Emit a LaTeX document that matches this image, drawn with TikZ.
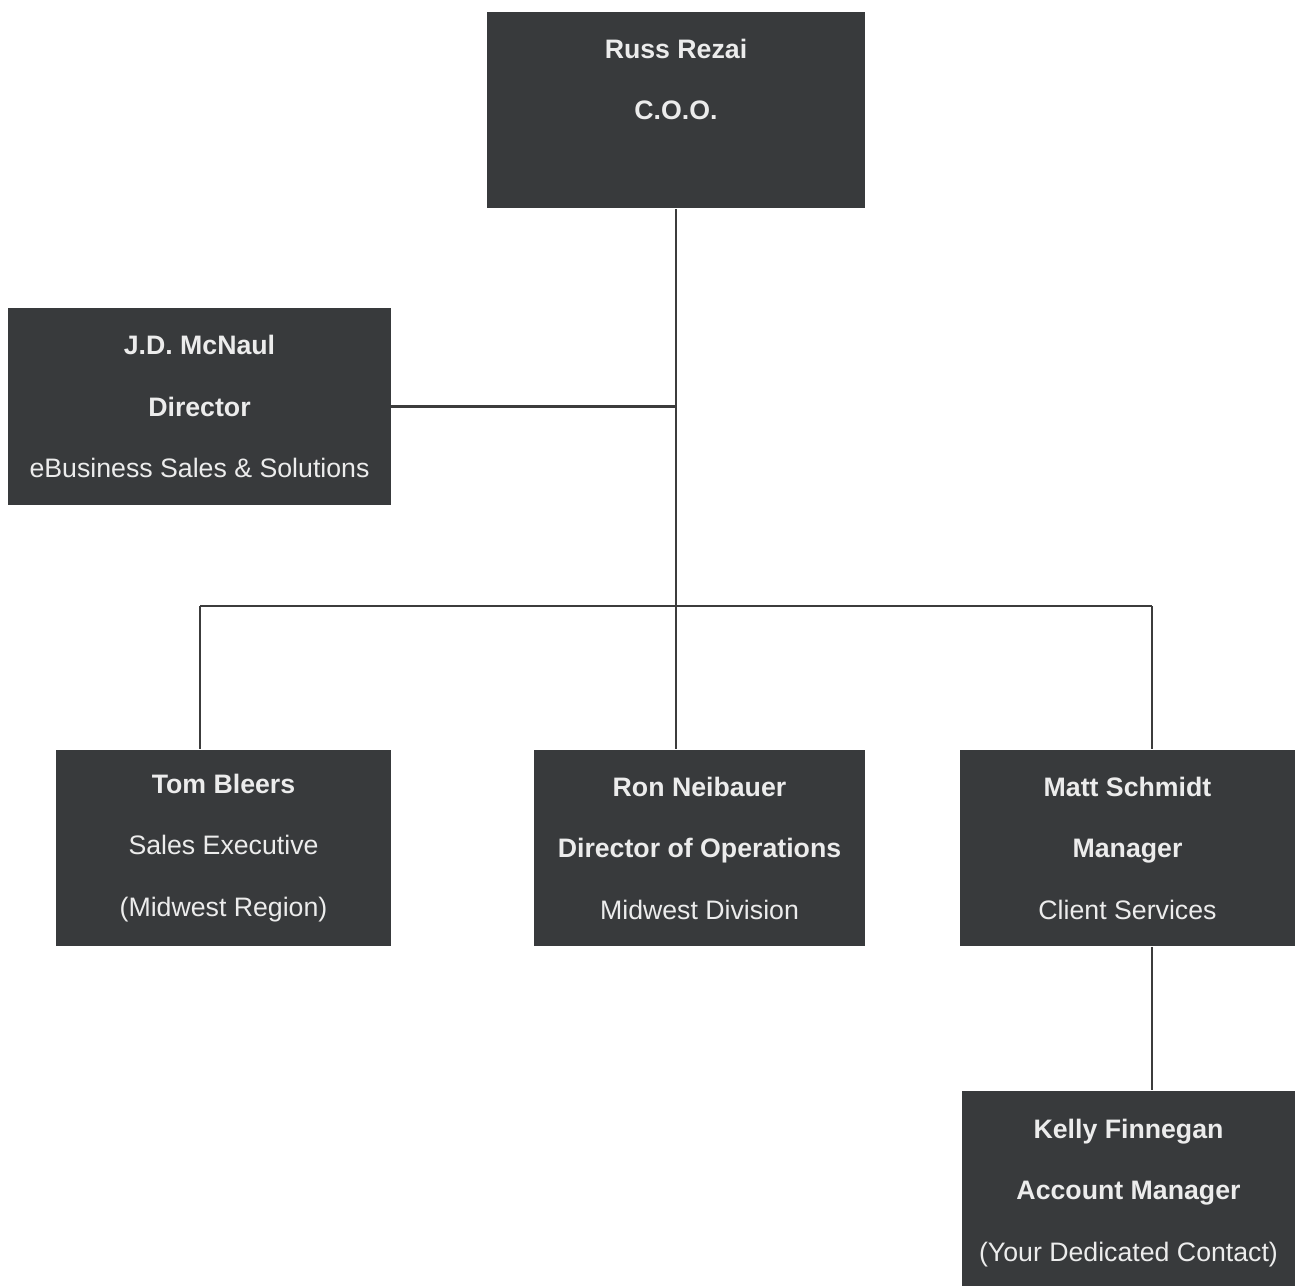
\documentclass[tikz,border=0pt]{standalone}
\usepackage{fontspec}
\setmainfont{Liberation Sans}
\usepackage{tikz}
\usetikzlibrary{calc}
\definecolor{boxgray}{RGB}{56,58,60}
\definecolor{boxtext}{RGB}{236,236,236}
\definecolor{linegray}{RGB}{60,60,60}
\tikzset{
  person/.style={fill=boxgray, text=boxtext, inner sep=0pt, align=center,
    font=\fontsize{15.2}{35}\selectfont, minimum height=3.94cm},
  link/.style={draw=linegray, line width=1.4pt}
}

\begin{document}
\begin{tikzpicture}[x=0.02cm,y=-0.02cm]
    \useasboundingbox (0,0) rectangle (1304,1285);
    % people
    \node[person, minimum width=7.56cm] (coo) at (676,110) {\textbf{Russ Rezai}\\\textbf{C.O.O.}\\ };
    \node[person, minimum width=7.66cm] (mcnaul) at (199.5,406.5) {\textbf{J.D. McNaul}\\\textbf{Director}\\eBusiness Sales \& Solutions};
    \node[person, minimum width=6.70cm] (tom) at (223.5,848) {\textbf{Tom Bleers}\\Sales Executive\\(Midwest Region)};
    \node[person, minimum width=6.62cm] (ron) at (699.5,848) {\textbf{Ron Neibauer}\\\textbf{Director of Operations}\\Midwest Division};
    \node[person, minimum width=6.70cm] (matt) at (1127.5,848) {\textbf{Matt Schmidt}\\\textbf{Manager}\\Client Services};
    \node[person, minimum width=6.66cm, minimum height=4.1cm] (kelly) at (1128.5,1193) {\textbf{Kelly Finnegan}\\\textbf{Account Manager}\\(Your Dedicated Contact)};
    % lines
    \coordinate (busL) at (200,606);
    \coordinate (busR) at (1152,606);
    \draw[link] (coo.south) -- (coo.south |- ron.north);
    \draw[link] (mcnaul.east) -- (mcnaul.east -| coo.south);
    \draw[link] (busL) -- (busR);
    \draw[link] (busL) -- (busL |- tom.north);
    \draw[link] (busR) -- (busR |- matt.north);
    \draw[link] (busR |- matt.south) -- (busR |- kelly.north);
\end{tikzpicture}
\end{document}
